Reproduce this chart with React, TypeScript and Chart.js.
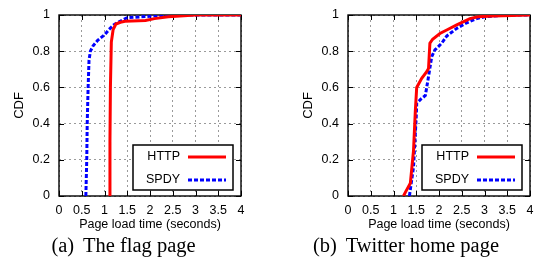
import React, { useEffect, useRef } from "react";
import { Chart, registerables } from "chart.js";

Chart.register(...registerables);

// ---- Data ----
const xTickValues = [0, 0.5, 1, 1.5, 2, 2.5, 3, 3.5, 4];
const xTickLabels = ["0", "0.5", "1", "1.5", "2", "2.5", "3", "3.5", "4"];
const yTickValues = [0, 0.2, 0.4, 0.6, 0.8, 1];
const yTickLabels = ["0", "0.2", "0.4", "0.6", "0.8", "1"];

const seriesNames = ["HTTP", "SPDY"];
const captions = ["(a)", "The flag page", "(b)", "Twitter home page"];
const xTitle = "Page load time (seconds)";
const yTitle = "CDF";

// (a) The flag page
const flagHttpX = [1.1, 1.12, 1.13, 1.15, 1.19, 1.25, 1.35, 1.45, 1.9, 2.1, 2.4, 3.0, 4.0];
const flagHttpY = [0, 0.3, 0.6, 0.85, 0.92, 0.95, 0.96, 0.965, 0.97, 0.98, 0.99, 1.0, 1.0];
const flagSpdyX = [0.59, 0.61, 0.62, 0.64, 0.66, 0.69, 0.75, 0.85, 1.0, 1.1, 1.2, 1.3, 1.5, 2.0, 2.5, 4.0];
const flagSpdyY = [0, 0.2, 0.4, 0.6, 0.75, 0.8, 0.83, 0.86, 0.89, 0.92, 0.945, 0.96, 0.985, 0.993, 1.0, 1.0];

// (b) Twitter home page
const twHttpX = [1.22, 1.26, 1.37, 1.44, 1.48, 1.51, 1.62, 1.73, 1.77, 1.8, 1.86, 2.02, 2.17, 2.39, 2.68, 2.86, 3.2, 4.0];
const twHttpY = [0, 0.02, 0.07, 0.25, 0.47, 0.6, 0.65, 0.687, 0.705, 0.844, 0.866, 0.898, 0.917, 0.945, 0.98, 0.99, 0.995, 1.0];
const twSpdyX = [1.35, 1.44, 1.5, 1.51, 1.6, 1.7, 1.77, 1.84, 1.91, 2.06, 2.17, 2.39, 2.61, 2.83, 3.0, 3.5, 4.0];
const twSpdyY = [0, 0.16, 0.44, 0.512, 0.535, 0.555, 0.66, 0.77, 0.807, 0.844, 0.884, 0.926, 0.957, 0.98, 0.99, 1.0, 1.0];

const RED = "#ff0000";
const BLUE = "#0000ff";
const SANS = "'Liberation Sans', Arial, sans-serif";

const zip = (xs: number[], ys: number[]) => xs.map((x, i) => ({ x, y: ys[i] }));

const framePlugin = {
  id: "gnuframe",
  beforeDatasetsDraw(chart: any) {
    const { ctx, chartArea: a, scales } = chart;
    ctx.save();
    ctx.strokeStyle = "#000";
    ctx.lineWidth = 1;
    const tl = 5;
    ctx.beginPath();
    xTickValues.forEach((v) => {
      const px = Math.round(scales.x.getPixelForValue(v)) + 0.5;
      ctx.moveTo(px, a.bottom);
      ctx.lineTo(px, a.bottom - tl);
      ctx.moveTo(px, a.top);
      ctx.lineTo(px, a.top + tl);
    });
    yTickValues.forEach((v) => {
      const py = Math.round(scales.y.getPixelForValue(v)) + 0.5;
      ctx.moveTo(a.left, py);
      ctx.lineTo(a.left + tl, py);
      ctx.moveTo(a.right, py);
      ctx.lineTo(a.right - tl, py);
    });
    ctx.stroke();
    ctx.lineWidth = 1.4;
    ctx.strokeRect(a.left, a.top, a.right - a.left, a.bottom - a.top);
    ctx.restore();
  },
  afterDatasetsDraw(chart: any) {
    const { ctx, chartArea: a } = chart;
    const w = 100;
    const h = 45;
    const bx = a.right - 8 - w;
    const by = a.bottom - 6 - h;
    ctx.save();
    ctx.fillStyle = "#fff";
    ctx.fillRect(bx, by, w, h);
    ctx.strokeStyle = "#000";
    ctx.lineWidth = 1.5;
    ctx.strokeRect(bx, by, w, h);
    ctx.font = `12.5px ${SANS}`;
    ctx.fillStyle = "#000";
    ctx.textAlign = "right";
    ctx.textBaseline = "middle";
    const rows = [
      { name: seriesNames[0], color: RED, dash: [] as number[], y: by + 12 },
      { name: seriesNames[1], color: BLUE, dash: [4, 2], y: by + 35 },
    ];
    rows.forEach((r) => {
      ctx.fillText(r.name, bx + 47, r.y);
      ctx.beginPath();
      ctx.strokeStyle = r.color;
      ctx.lineWidth = 3;
      ctx.setLineDash(r.dash);
      ctx.moveTo(bx + 55, r.y);
      ctx.lineTo(bx + 93, r.y);
      ctx.stroke();
    });
    ctx.restore();
  },
};

function CdfChart({ http, spdy }: { http: { x: number; y: number }[]; spdy: { x: number; y: number }[] }) {
  const ref = useRef<HTMLCanvasElement>(null);
  useEffect(() => {
    if (!ref.current) return;
    const chart = new Chart(ref.current, {
      type: "line",
      data: {
        datasets: [
          {
            label: seriesNames[0],
            data: http,
            borderColor: RED,
            borderWidth: 3,
            pointRadius: 0,
            tension: 0,
            fill: false,
          },
          {
            label: seriesNames[1],
            data: spdy,
            borderColor: BLUE,
            borderWidth: 3,
            borderDash: [4, 2],
            pointRadius: 0,
            tension: 0,
            fill: false,
          },
        ],
      },
      options: {
        animation: false,
        responsive: false,
        devicePixelRatio: 1,
        layout: { padding: { left: 0, top: 15, right: 5, bottom: 0 } },
        plugins: { legend: { display: false }, tooltip: { enabled: false } },
        scales: {
          x: {
            type: "linear",
            min: 0,
            max: 4,
            afterBuildTicks: (s: any) => {
              s.ticks = xTickValues.map((v) => ({ value: v }));
            },
            afterFit: (s: any) => {
              s.height = 39;
              s.paddingLeft = 0;
              s.paddingRight = 0;
            },
            ticks: {
              padding: 7,
              color: "#000",
              font: { family: SANS, size: 12.5 },
              maxRotation: 0,
              autoSkip: false,
              callback: (v: any) => {
                const i = xTickValues.indexOf(Number(v));
                return i >= 0 ? xTickLabels[i] : "";
              },
            },
            grid: { color: "#9a9a9a", lineWidth: 1, drawTicks: false },
            border: { display: false, dash: [2, 3] },
            title: {
              display: true,
              text: xTitle,
              color: "#000",
              font: { family: SANS, size: 12.5 },
              padding: { top: 0, bottom: 2.5 },
            },
          },
          y: {
            type: "linear",
            min: 0,
            max: 1,
            afterBuildTicks: (s: any) => {
              s.ticks = yTickValues.map((v) => ({ value: v }));
            },
            afterFit: (s: any) => {
              s.width = 59;
              s.paddingTop = 0;
              s.paddingBottom = 0;
            },
            ticks: {
              padding: 9,
              color: "#000",
              font: { family: SANS, size: 12.5 },
              autoSkip: false,
              callback: (v: any) => {
                const i = yTickValues.findIndex((t) => Math.abs(t - Number(v)) < 1e-9);
                return i >= 0 ? yTickLabels[i] : "";
              },
            },
            grid: { color: "#9a9a9a", lineWidth: 1, drawTicks: false },
            border: { display: false, dash: [2, 3] },
            title: {
              display: true,
              text: yTitle,
              color: "#000",
              font: { family: SANS, size: 13 },
              padding: { top: 12, bottom: 0 },
            },
          },
        },
      } as any,
      plugins: [framePlugin],
    });
    return () => chart.destroy();
  }, [http, spdy]);
  return <canvas ref={ref} width={246} height={235} style={{ width: 246, height: 235, display: "block" }} />;
}

const flagHttp = zip(flagHttpX, flagHttpY);
const flagSpdy = zip(flagSpdyX, flagSpdyY);
const twHttp = zip(twHttpX, twHttpY);
const twSpdy = zip(twSpdyX, twSpdyY);

const captionStyle: React.CSSProperties = {
  position: "absolute",
  top: 233,
  width: 240,
  textAlign: "center",
  fontFamily: "'Liberation Serif', 'Times New Roman', serif",
  fontSize: 20.5,
  lineHeight: "24px",
  color: "#000",
  whiteSpace: "nowrap",
};

export default function App() {
  return (
    <div style={{ position: "fixed", left: 0, top: 0, width: 535, height: 270, background: "#fff", overflow: "hidden" }}>
      <div style={{ position: "absolute", left: 0, top: 0 }}>
        <CdfChart http={flagHttp} spdy={flagSpdy} />
      </div>
      <div style={{ position: "absolute", left: 289, top: 0 }}>
        <CdfChart http={twHttp} spdy={twSpdy} />
      </div>
      <div style={{ ...captionStyle, left: 123.5 - 120 }}>
        <span style={{ marginRight: 4 }}>{captions[0]}</span> {captions[1]}
      </div>
      <div style={{ ...captionStyle, left: 406 - 120 }}>
        <span style={{ marginRight: 4 }}>{captions[2]}</span> {captions[3]}
      </div>
    </div>
  );
}
